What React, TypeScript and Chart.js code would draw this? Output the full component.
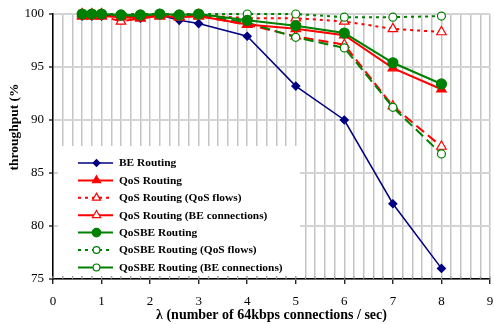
import React, { useEffect, useRef } from 'react';
import { Chart, registerables } from 'chart.js';

Chart.register(...registerables);

const lambdas = [0.6, 0.8, 1, 1.4, 1.8, 2.2, 2.6, 3, 4, 5, 6, 7, 8];
const beRouting = [99.8, 99.8, 99.8, 99.9, 99.6, 99.9, 99.4, 99.1, 97.9, 93.2, 90.0, 82.1, 76.0];
const qosRouting = [99.8, 99.8, 99.8, 99.7, 99.6, 99.8, 99.7, 99.8, 99.0, 98.6, 98.0, 94.9, 92.9];
const qosRoutingQosFlows = [100, 100, 100, 99.8, 99.8, 99.9, 99.8, 99.9, 99.6, 99.6, 99.3, 98.6, 98.3];
const qosRoutingBeConn = [99.8, 99.8, 99.8, 99.3, 99.6, 99.8, 99.7, 99.8, 99.0, 97.9, 97.1, 91.3, 87.5];
const qosbeRouting = [100, 100, 100, 99.9, 99.9, 100, 99.9, 100, 99.4, 98.9, 98.2, 95.4, 93.4];
const qosbeRoutingQosFlows = [100, 100, 100, 100, 100, 100, 100, 100, 100, 100, 99.7, 99.7, 99.8];
const qosbeRoutingBeConn = [100, 100, 100, 99.8, 99.8, 100, 99.8, 99.9, 99.2, 97.8, 96.8, 91.2, 86.8];

const seriesLabels = [
  'BE Routing',
  'QoS Routing',
  'QoS Routing (QoS flows)',
  'QoS Routing (BE connections)',
  'QoSBE Routing',
  'QoSBE Routing (QoS flows)',
  'QoSBE Routing (BE connections)',
];

const xTitle = 'λ (number of 64kbps connections / sec)';
const yTitle = 'throughput (%';
const xMin = 0, xMax = 9, xStep = 0.2;
const yMin = 75, yMax = 100, yStep = 5;

const SERIF = '"Liberation Serif", "Times New Roman", serif';
const NAVY = '#000080';
const RED = '#ff0000';
const GREEN = '#008000';

function toPoints(vals: number[]) {
  return vals.map((v, i) => ({ x: lambdas[i], y: v }));
}

function drawMarker(ctx: CanvasRenderingContext2D, style: string, x: number, y: number, r: number, fill: string, stroke: string, lw: number) {
  ctx.beginPath();
  if (style === 'rectRot') {
    ctx.moveTo(x, y - r);
    ctx.lineTo(x + r, y);
    ctx.lineTo(x, y + r);
    ctx.lineTo(x - r, y);
    ctx.closePath();
  } else if (style === 'triangle') {
    ctx.moveTo(x, y - r);
    ctx.lineTo(x + r * 0.866, y + r * 0.5);
    ctx.lineTo(x - r * 0.866, y + r * 0.5);
    ctx.closePath();
  } else {
    ctx.arc(x, y, r, 0, Math.PI * 2);
  }
  ctx.setLineDash([]);
  ctx.fillStyle = fill;
  ctx.fill();
  ctx.strokeStyle = stroke;
  ctx.lineWidth = lw;
  ctx.stroke();
}

const legendPlugin = {
  id: 'boxLegend',
  beforeDatasetsDraw(chart: any) {
    const { ctx, chartArea: a } = chart;
    ctx.save();
    ctx.fillStyle = '#ffffff';
    ctx.fillRect(a.left + 5, a.top + 132, 242, a.bottom - 3 - (a.top + 132));
    const xs = chart.scales.x;
    ctx.strokeStyle = '#a0a0a0';
    ctx.lineWidth = 1;
    xs.ticks.forEach((t: any) => {
      const px = xs.getPixelForValue(t.value);
      ctx.beginPath();
      ctx.moveTo(px, a.bottom);
      ctx.lineTo(px, a.bottom - 3);
      ctx.stroke();
    });
    chart.data.datasets.forEach((ds: any, i: number) => {
      const cy = a.top + 149 + i * 17.4;
      ctx.beginPath();
      ctx.setLineDash(ds.legendDash || []);
      ctx.strokeStyle = ds.borderColor;
      ctx.lineWidth = ds.borderWidth;
      ctx.moveTo(a.left + 25, cy);
      ctx.lineTo(a.left + 60, cy);
      ctx.stroke();
      drawMarker(ctx, ds.pointStyle, a.left + 43.5, cy, ds.pointRadius * 0.85, ds.pointBackgroundColor, ds.pointBorderColor, ds.pointBorderWidth);
      ctx.fillStyle = '#000';
      ctx.font = 'bold 11.4px ' + SERIF;
      ctx.textAlign = 'left';
      ctx.textBaseline = 'middle';
      ctx.fillText(ds.label, a.left + 66, cy + 0.5);
    });
    ctx.save();
    ctx.translate(15, 127);
    ctx.rotate(-Math.PI / 2);
    ctx.font = 'bold 13.5px ' + SERIF;
    ctx.fillStyle = '#000';
    ctx.textAlign = 'center';
    ctx.textBaseline = 'middle';
    ctx.fillText(yTitle, 0, 0);
    ctx.restore();
    ctx.restore();
  },
};

function makeDataset(i: number, vals: number[], color: string, style: string, filled: boolean, dash: number[], legendDash: number[], radius: number, width: number, order: number) {
  return {
    label: seriesLabels[i],
    data: toPoints(vals),
    borderColor: color,
    backgroundColor: color,
    borderWidth: width,
    borderDash: dash,
    legendDash,
    pointStyle: style,
    pointRadius: radius,
    pointBackgroundColor: filled ? color : '#ffffff',
    pointBorderColor: color,
    pointBorderWidth: 1.2,
    tension: 0,
    fill: false,
    clip: false,
    order,
  };
}

export default function App() {
  const ref = useRef<HTMLCanvasElement>(null);
  useEffect(() => {
    if (!ref.current) return;
    const datasets = [
      makeDataset(0, beRouting, NAVY, 'rectRot', true, [], [], 4, 1.5, 6),
      makeDataset(1, qosRouting, RED, 'triangle', true, [], [], 5.5, 2, 1),
      makeDataset(2, qosRoutingQosFlows, RED, 'triangle', false, [3, 4], [3, 4], 5.5, 2, 4),
      makeDataset(3, qosRoutingBeConn, RED, 'triangle', false, [10, 5], [], 5.5, 2, 5),
      makeDataset(4, qosbeRouting, GREEN, 'circle', true, [], [], 5, 2, 0),
      makeDataset(5, qosbeRoutingQosFlows, GREEN, 'circle', false, [3, 4], [3, 4], 4, 2, 2),
      makeDataset(6, qosbeRoutingBeConn, GREEN, 'circle', false, [10, 5], [], 4, 2, 3),
    ];
    const chart = new Chart(ref.current, {
      type: 'line',
      data: { datasets } as any,
      plugins: [legendPlugin],
      options: {
        animation: false,
        responsive: true,
        maintainAspectRatio: false,
        layout: { autoPadding: false, padding: { top: 14, right: 4, left: 0, bottom: 0 } },
        plugins: { legend: { display: false }, tooltip: { enabled: false }, title: { display: false } },
        scales: {
          x: {
            type: 'linear',
            min: xMin,
            max: xMax,
            afterFit: (s: any) => { s.height = 45; s.paddingRight = 0; s.paddingLeft = 0; },
            ticks: {
              stepSize: xStep,
              autoSkip: false,
              maxRotation: 0,
              padding: 10,
              color: '#000',
              font: { family: SERIF, size: 13 },
              callback: (v: any) => {
                const n = Number(v);
                return Math.abs(n - Math.round(n)) < 1e-6 ? String(Math.round(n)) : '';
              },
            },
            grid: {
              color: '#c4c4c4',
              lineWidth: 1.5,
              tickLength: 5,
              tickColor: (c: any) => {
                const n = c.tick ? c.tick.value : 0;
                return Math.abs(n - Math.round(n)) < 1e-6 ? '#000' : 'rgba(0,0,0,0)';
              },
              tickWidth: 1.2,
            },
            border: { display: true, color: '#000', width: 1.5 },
            title: {
              display: true,
              text: xTitle,
              color: '#000',
              font: { family: SERIF, size: 14, weight: 'bold' },
              padding: { top: 0, bottom: 0 },
            },
          },
          y: {
            type: 'linear',
            min: yMin,
            max: yMax,
            afterFit: (s: any) => { s.width = 53; s.paddingTop = 0; s.paddingBottom = 0; },
            ticks: {
              stepSize: yStep,
              padding: 5,
              color: '#000',
              font: { family: SERIF, size: 13 },
            },
            grid: {
              color: '#d4d4d4',
              lineWidth: 2,
              tickLength: 4,
              tickColor: '#000',
              tickWidth: 1.2,
            },
            border: { display: true, color: '#000', width: 1.5 },
          },
        },
      } as any,
    });
    return () => chart.destroy();
  }, []);
  return (
    <div style={{ position: 'fixed', left: 0, top: 0, width: 494, height: 324, background: '#fff' }}>
      <canvas ref={ref} />
    </div>
  );
}
